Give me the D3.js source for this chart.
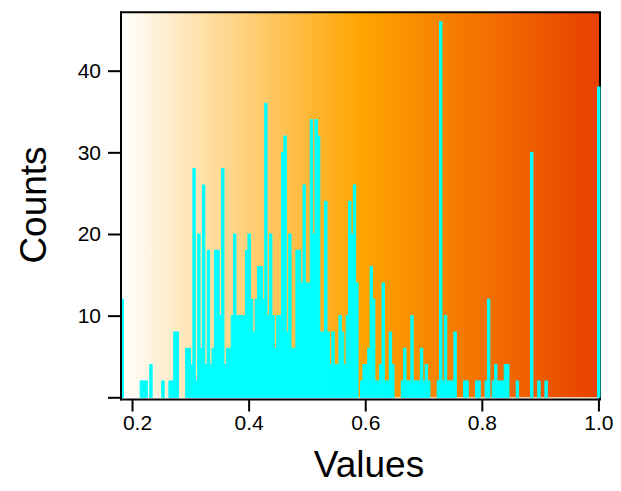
<!DOCTYPE html>
<html>
<head>
<meta charset="utf-8">
<script src="https://cdn.jsdelivr.net/npm/d3@7"></script>
<style>
  html, body { margin: 0; padding: 0; background: #ffffff; }
  svg { display: block; font-family: "Liberation Sans", Arial, Helvetica, sans-serif; }
</style>
</head>
<body>
<svg id="chart" width="621" height="491"></svg>
<script>
// Histogram: 200 equal-width bins spanning the value range
const binStart = 0.1811;
const binEnd = 1.0027;
const binCounts = [
  12, 0, 0, 0, 0, 0, 0, 0, 2, 2,
  2, 0, 4, 0, 0, 0, 0, 2, 0, 0,
  2, 2, 8, 8, 0, 0, 0, 6, 6, 4,
  28, 2, 20, 6, 26, 4, 18, 4, 6, 18,
  18, 10, 28, 4, 6, 6, 10, 20, 10, 10,
  10, 10, 18, 20, 12, 8, 12, 16, 16, 12,
  36, 10, 20, 10, 6, 10, 10, 30, 32, 8,
  20, 6, 6, 18, 18, 14, 26, 14, 14, 34,
  20, 34, 32, 8, 8, 24, 8, 4, 8, 4,
  4, 10, 8, 4, 10, 24, 20, 26, 14, 0,
  2, 4, 4, 6, 16, 12, 2, 2, 4, 14,
  2, 2, 8, 4, 0, 0, 0, 2, 6, 2,
  2, 10, 2, 2, 2, 6, 2, 4, 2, 0,
  0, 0, 2, 46, 2, 10, 2, 2, 2, 8,
  0, 0, 0, 2, 2, 0, 0, 0, 2, 2,
  0, 0, 2, 12, 0, 2, 4, 2, 2, 2,
  4, 4, 0, 0, 0, 2, 0, 0, 0, 0,
  0, 30, 0, 0, 2, 0, 0, 2, 0, 0,
  0, 0, 0, 0, 0, 0, 0, 0, 0, 0,
  0, 0, 0, 0, 0, 0, 0, 0, 0, 38
];
const xTicks = [0.2, 0.4, 0.6, 0.8, 1.0];
const yTicks = [0, 10, 20, 30, 40];
const yMax = 47.15;
const xTitle = "Values";
const yTitle = "Counts";

const plot = { left: 121, right: 600, top: 12.3, bottom: 397.3 };
const svg = d3.select("#chart");

const x = d3.scaleLinear().domain([binStart, binEnd]).range([plot.left, plot.right]);
const y = d3.scaleLinear().domain([0, yMax]).range([plot.bottom, plot.top]);

const binWidth = (binEnd - binStart) / binCounts.length;
const bins = binCounts.map((c, i) => ({
  x0: binStart + i * binWidth,
  x1: binStart + (i + 1) * binWidth,
  count: c
}));

// Horizontal colour ramp behind the bars: white -> orange -> red-orange
const defs = svg.append("defs");
const grad = defs.append("linearGradient")
  .attr("id", "bgRamp")
  .attr("x1", "0%").attr("x2", "100%").attr("y1", "0%").attr("y2", "0%");
grad.append("stop").attr("offset", "0%").attr("stop-color", "#ffffff");
grad.append("stop").attr("offset", "50%").attr("stop-color", "#ffa500");
grad.append("stop").attr("offset", "100%").attr("stop-color", "#e84000");

svg.append("rect")
  .attr("x", plot.left).attr("y", plot.top)
  .attr("width", plot.right - plot.left)
  .attr("height", plot.bottom - plot.top)
  .attr("fill", "url(#bgRamp)");

// Top and right frame lines (drawn beneath the bars)
svg.append("line")
  .attr("x1", plot.left - 1).attr("x2", plot.right + 1)
  .attr("y1", plot.top).attr("y2", plot.top)
  .attr("stroke", "#000").attr("stroke-width", 2);
svg.append("line")
  .attr("x1", plot.right).attr("x2", plot.right)
  .attr("y1", plot.top).attr("y2", plot.bottom + 2)
  .attr("stroke", "#000").attr("stroke-width", 2);

// Bars
svg.append("g")
  .selectAll("rect")
  .data(bins)
  .join("rect")
  .attr("x", d => x(d.x0))
  .attr("width", d => x(d.x1) - x(d.x0))
  .attr("y", d => y(d.count))
  .attr("height", d => y(0) - y(d.count))
  .attr("fill", "#00ffff")
  .attr("stroke", "#00ffff")
  .attr("stroke-width", 1);

// Left axis
const yAxis = d3.axisLeft(y)
  .tickValues(yTicks)
  .tickSize(13)
  .tickPadding(7)
  .tickFormat(d => d === 0 ? "" : d3.format("d")(d));
const gy = svg.append("g")
  .attr("transform", `translate(${plot.left},0)`)
  .call(yAxis);
gy.select(".domain").remove();
gy.append("line")
  .attr("x1", 0).attr("x2", 0)
  .attr("y1", plot.top - 1).attr("y2", plot.bottom + 3)
  .attr("stroke", "#000").attr("stroke-width", 2);
gy.selectAll(".tick line").attr("stroke", "#000").attr("stroke-width", 2);
gy.selectAll(".tick text")
  .attr("fill", "#000")
  .style("font-size", "21px");

// Bottom axis
const axisY = plot.bottom + 2.2;
const xAxis = d3.axisBottom(x)
  .tickValues(xTicks)
  .tickSize(12)
  .tickPadding(4)
  .tickFormat(d3.format(".1f"));
const gx = svg.append("g")
  .attr("transform", `translate(0,${axisY})`)
  .call(xAxis);
gx.select(".domain").remove();
gx.append("line")
  .attr("x1", plot.left - 1).attr("x2", plot.right + 1)
  .attr("y1", 0).attr("y2", 0)
  .attr("stroke", "#000").attr("stroke-width", 2);
gx.selectAll(".tick line").attr("stroke", "#000").attr("stroke-width", 2);
gx.selectAll(".tick text")
  .attr("fill", "#000")
  .style("font-size", "21px")
  .attr("dx", d => d === xTicks[0] ? 5 : 0);

// Axis titles
svg.append("text")
  .attr("x", 369).attr("y", 477)
  .attr("text-anchor", "middle")
  .style("font-size", "37px")
  .attr("fill", "#000")
  .text(xTitle);

svg.append("text")
  .attr("transform", "translate(46,205) rotate(-90)")
  .attr("text-anchor", "middle")
  .style("font-size", "37px")
  .attr("fill", "#000")
  .text(yTitle);
</script>
</body>
</html>
